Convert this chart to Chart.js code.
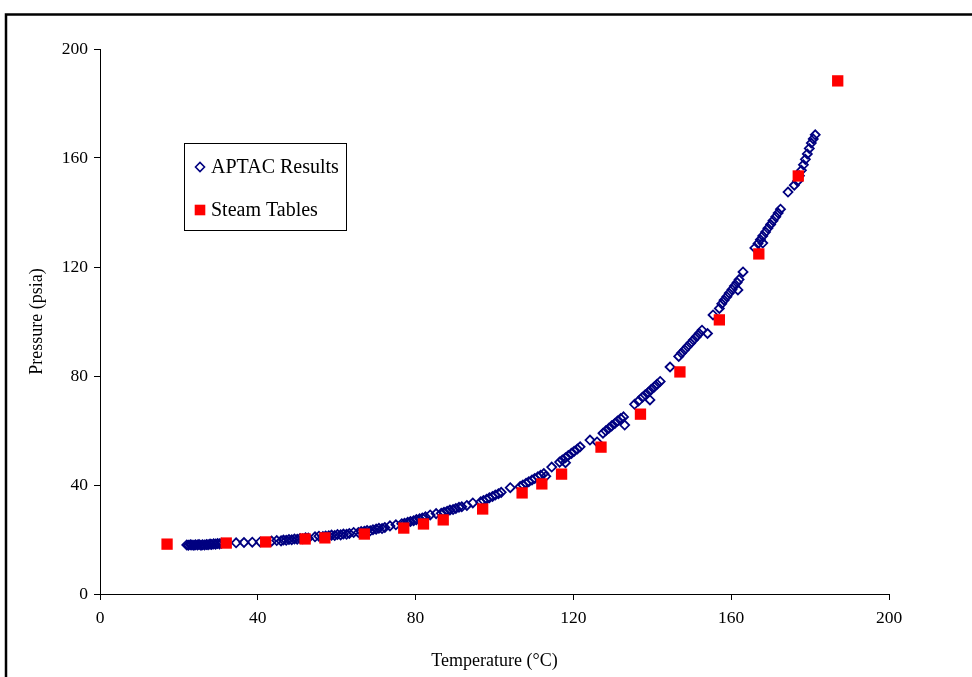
<!DOCTYPE html>
<html>
<head>
<meta charset="utf-8">
<script src="https://cdn.jsdelivr.net/npm/chart.js@4/dist/chart.umd.min.js"></script>
<style>
  html, body { margin: 0; padding: 0; background: #fff; }
  canvas { display: block; }
</style>
</head>
<body>
<canvas id="c" width="972" height="677"></canvas>
<script>
// ---- Data ----
const seriesNames = ["APTAC Results", "Steam Tables"];
const xTicks = [0, 40, 80, 120, 160, 200];
const yTicks = [0, 40, 80, 120, 160, 200];

// Steam Tables: temperature (°C) and pressure (psia)
const steamT = [17, 32, 42, 52, 57, 67, 77, 82, 87, 97, 107, 112, 117, 127, 137, 147, 157, 167, 177, 187];
const steamP = [18.3, 18.7, 19.1, 20.2, 20.6, 22.0, 24.2, 25.7, 27.2, 31.2, 37.1, 40.4, 44.0, 53.9, 66.0, 81.5, 100.6, 124.8, 153.4, 188.3];

// APTAC Results: temperature (°C) and pressure (psia)
const aptacT = [
  22.0, 22.4, 22.9, 23.3, 23.8, 24.2, 24.7, 25.1, 25.6, 26.0, 26.5, 27.0, 27.4, 27.9, 28.3, 28.8, 29.3, 29.8, 30.3, 30.8,
  34.5, 36.5, 38.6, 40.6, 43.5, 44.8, 45.9,
  46.5, 47.2, 47.9, 48.6, 49.3, 50.0, 50.7, 51.4, 52.1, 52.8,
  54.5, 55.5,
  56.5, 57.2, 58.0, 58.7, 59.5, 60.2, 61.0, 61.7, 62.5, 63.2,
  64.3,
  65.5, 66.2, 67.0, 67.7, 68.5, 69.2, 70.0, 70.7, 71.5, 72.2,
  73.5, 75.0,
  76.5, 77.2, 78.0, 78.7, 79.5, 80.2, 81.0, 81.7, 82.5,
  83.7, 85.2,
  86.5, 87.2, 88.0, 88.7, 89.5, 90.2, 91.0, 91.7,
  93.0, 94.5,
  96.5, 97.2, 98.0, 98.7, 99.5, 100.2, 101.0, 101.7,
  104.0,
  106.5, 107.2, 108.0, 108.7, 109.5, 110.2, 111.0, 111.7, 112.5,
  113.0, 114.5,
  116.5, 117.2, 118.0, 118.7, 119.5, 120.2, 121.0, 121.7,
  118.0, 124.2, 126.0,
  127.5, 128.2, 129.0, 129.7, 130.5, 131.2, 132.0, 132.7,
  133.0, 135.5, 136.5,
  137.5, 138.2, 139.0, 139.7, 140.5, 141.2, 142.0,
  139.4, 144.5,
  146.7, 147.4, 148.2, 148.9, 149.7, 150.4, 151.2, 151.9, 152.6,
  154.0, 155.4, 157.0,
  157.6, 158.2, 158.9, 159.5, 160.2, 160.8, 161.5, 162.0,
  161.7, 163.0, 166.0,
  166.8, 167.4, 168.0, 168.7, 169.3, 170.0, 170.6, 171.3, 171.9, 172.5,
  168.0, 174.4, 176.0,
  176.8, 177.3, 177.8, 178.3, 178.8, 179.3, 179.8, 180.3, 180.8, 181.3
];
const aptacP = [
  18.0, 17.9, 18.1, 18.0, 17.9, 18.1, 18.0, 18.2, 17.9, 18.1, 18.0, 18.2, 18.1, 18.3, 18.2, 18.4, 18.3, 18.5, 18.4, 18.6,
  18.8, 18.9, 19.0, 19.1, 19.4, 19.6, 19.5,
  19.8, 19.7, 20.0, 19.9, 20.2, 20.1, 20.4, 20.3, 20.6, 20.5,
  21.0, 21.2,
  21.1, 21.3, 21.4, 21.6, 21.5, 21.8, 21.7, 22.0, 21.9, 22.2,
  22.6,
  22.6, 22.9, 23.0, 23.3, 23.2, 23.6, 23.8, 24.1, 24.0, 24.4,
  25.0, 25.4,
  25.8, 26.0, 26.3, 26.6, 26.9, 27.3, 27.6, 27.9, 28.3,
  29.0, 29.5,
  29.6, 30.0, 30.4, 30.8, 31.0, 31.4, 31.8, 32.0,
  32.5, 33.4,
  33.8, 34.3, 34.8, 35.3, 35.8, 36.3, 36.8, 37.3,
  39.0,
  39.4, 40.0, 40.6, 41.2, 41.8, 42.4, 43.0, 43.6, 44.2,
  43.2, 46.6,
  48.4, 49.2, 50.0, 50.8, 51.6, 52.4, 53.2, 54.0,
  48.2, 56.5, 55.8,
  59.0, 59.9, 60.8, 61.7, 62.6, 63.5, 64.4, 65.0,
  62.0, 69.6, 70.8,
  72.2, 73.1, 74.0, 75.0, 76.0, 77.0, 78.0,
  71.2, 83.3,
  87.2, 88.4, 89.6, 90.8, 92.0, 93.2, 94.4, 95.6, 96.8,
  95.6, 102.4, 104.8,
  106.5, 107.8, 109.1, 110.4, 111.7, 113.0, 114.3, 115.4,
  111.6, 118.2, 127.0,
  128.6, 130.0, 131.4, 132.8, 134.2, 135.6, 137.0, 138.4, 139.8, 141.2,
  128.8, 147.5, 150.0,
  151.5, 153.5, 155.5, 157.5, 159.5, 161.5, 163.5, 165.5, 167.0, 168.5
];

const xTitle = "Temperature (°C)";
const yTitle = "Pressure (psia)";

// ---- Build datasets ----
const aptacData = aptacT.map((t, i) => ({ x: t, y: aptacP[i] }));
const steamData = steamT.map((t, i) => ({ x: t, y: steamP[i] }));

const FONT = "'Liberation Serif', 'Times New Roman', serif";

const framePlugin = {
  id: 'frame',
  beforeDraw(chart) {
    const ctx = chart.ctx;
    ctx.save();
    ctx.fillStyle = '#fff';
    ctx.fillRect(0, 0, chart.width, chart.height);
    ctx.strokeStyle = '#000';
    ctx.lineWidth = 2.5;
    ctx.strokeRect(6, 14.5, 2000, 2000);
    ctx.restore();
  }
};

const legendPlugin = {
  id: 'boxLegend',
  afterDraw(chart) {
    const ctx = chart.ctx;
    const ds = chart.data.datasets;
    ctx.save();
    ctx.fillStyle = '#fff';
    ctx.fillRect(184.5, 143.5, 162, 87);
    ctx.strokeStyle = '#000';
    ctx.lineWidth = 1;
    ctx.strokeRect(184.5, 143.5, 162, 87);
    const rows = [167, 210];
    ds.forEach((d, i) => {
      ctx.save();
      ctx.strokeStyle = d.borderColor;
      ctx.fillStyle = i === 0 ? '#fff' : d.backgroundColor;
      ctx.lineWidth = i === 0 ? 1.6 : 0;
      Chart.helpers.drawPoint(ctx, { pointStyle: d.pointStyle, radius: i === 0 ? 4.5 : 7.5, borderWidth: i === 0 ? 1.6 : 0 }, 200, rows[i]);
      ctx.restore();
      ctx.fillStyle = '#000';
      ctx.font = "20px " + FONT;
      ctx.textBaseline = 'middle';
      ctx.textAlign = 'left';
      ctx.fillText(d.label, 211, rows[i] + 1);
    });
    ctx.restore();
  }
};

new Chart(document.getElementById('c'), {
  type: 'scatter',
  data: {
    datasets: [
      {
        label: seriesNames[0],
        data: aptacData,
        pointStyle: 'rectRot',
        pointRadius: 4.5,
        pointHoverRadius: 4.5,
        borderColor: '#000080',
        backgroundColor: 'rgba(255,255,255,0)',
        borderWidth: 1.8,
        order: 2
      },
      {
        label: seriesNames[1],
        data: steamData,
        pointStyle: 'rect',
        pointRadius: 8,
        pointHoverRadius: 8,
        borderColor: '#ff0000',
        backgroundColor: '#ff0000',
        borderWidth: 0,
        order: 1
      }
    ]
  },
  options: {
    responsive: false,
    animation: false,
    events: [],
    layout: { padding: { left: 0, top: 49, right: 83, bottom: 0 } },
    plugins: {
      legend: { display: false },
      tooltip: { enabled: false }
    },
    scales: {
      x: {
        type: 'linear',
        min: 0, max: 200,
        afterBuildTicks: (s) => { s.ticks = xTicks.map(v => ({ value: v })); },
        afterFit: (s) => { s.height = 83; },
        grid: { drawOnChartArea: false, drawTicks: true, tickLength: 6, color: '#000', tickWidth: 1 },
        border: { display: true, color: '#000', width: 1 },
        ticks: { color: '#000', font: { family: FONT, size: 17.5 }, padding: 8, maxRotation: 0 },
        title: { display: true, text: xTitle, color: '#000', font: { family: FONT, size: 18 }, padding: { top: 4, bottom: 5 } }
      },
      y: {
        type: 'linear',
        min: 0, max: 200,
        afterBuildTicks: (s) => { s.ticks = yTicks.map(v => ({ value: v })); },
        afterFit: (s) => { s.width = 100; },
        grid: { drawOnChartArea: false, drawTicks: true, tickLength: 6, color: '#000', tickWidth: 1 },
        border: { display: true, color: '#000', width: 1 },
        ticks: { color: '#000', font: { family: FONT, size: 17.5 }, padding: 6 },
        title: { display: true, text: yTitle, color: '#000', font: { family: FONT, size: 18 }, padding: { top: 26, bottom: 0 } }
      }
    }
  },
  plugins: [framePlugin, legendPlugin]
});
</script>
</body>
</html>
